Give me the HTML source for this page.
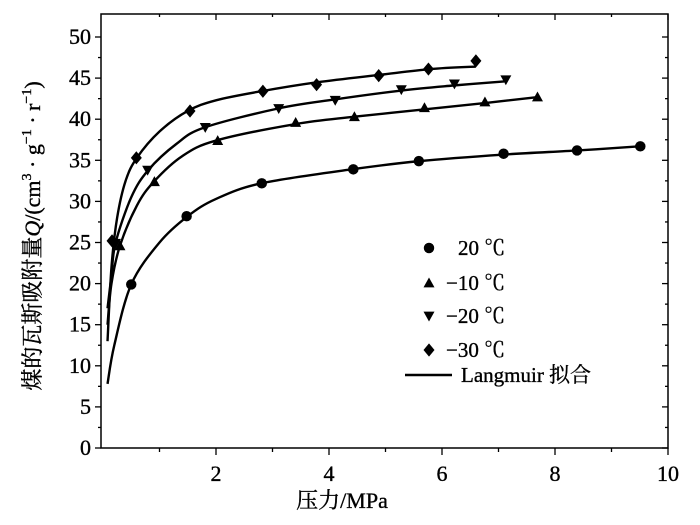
<!DOCTYPE html>
<html><head><meta charset="utf-8"><style>
body{margin:0;background:#fff}
svg{display:block;font-family:"Liberation Serif","Noto Serif CJK SC",serif}
svg text{stroke:#000;stroke-width:0.35}
</style></head><body>
<svg id="c" width="700" height="525" viewBox="0 0 700 525"></svg>
<script>
const xTicks=[2,4,6,8,10];
const yTicks=[0,5,10,15,20,25,30,35,40,45,50];
const seriesNames=["20 ℃","−10 ℃","−20 ℃","−30 ℃"];
const seriesMarkers=["circle","up","down","diamond"];
const p20=[0.50,1.48,2.81,4.43,5.59,7.09,8.39,9.51];
const q20=[19.9,28.2,32.2,33.9,34.9,35.8,36.2,36.7];
const pm10=[0.30,0.91,2.03,3.41,4.45,5.69,6.76,7.69];
const qm10=[24.6,32.4,37.4,39.6,40.3,41.4,42.1,42.7];
const pm20=[0.22,0.79,1.81,3.11,4.11,5.28,6.22,7.13];
const qm20=[24.9,33.8,39.0,41.3,42.3,43.6,44.3,44.8];
const pm30=[0.16,0.59,1.54,2.83,3.78,4.88,5.76,6.60];
const qm30=[25.2,35.3,41.0,43.4,44.2,45.3,46.1,47.1];
const fp20=[0.08,0.2,0.5,1.0,1.5,2.0,2.8,4.4,5.6,7.1,8.4,9.5];
const fq20=[7.8,12.5,19.9,25,28.2,30.3,32.2,33.9,34.9,35.7,36.2,36.7];
const fpm10=[0.08,0.15,0.3,0.6,0.9,1.4,2.0,3.4,4.45,5.7,6.8,7.7];
const fqm10=[15,20,24.6,29.5,32.4,35.5,37.4,39.4,40.3,41.2,42.0,42.7];
const fpm20=[0.08,0.15,0.22,0.5,0.8,1.3,1.8,3.1,4.1,5.3,6.2,7.1];
const fqm20=[17,21,24.9,30.5,33.8,37,39.0,41.3,42.4,43.5,44.1,44.6];
const fpm30=[0.08,0.15,0.25,0.4,0.6,1.0,1.5,2.0,2.8,3.8,4.9,5.8,6.6];
const fqm30=[13,22,28,32.5,35.3,38.5,41.0,42.3,43.4,44.5,45.4,46.1,46.4];

const svg=document.getElementById('c');
const NS='http://www.w3.org/2000/svg';
const X0=103,XS=56.5,Y0=448,YS=8.22;
const sx=v=>X0+v*XS, sy=v=>Y0-v*YS;
function mk(t,a){const e=document.createElementNS(NS,t);for(const k in a)e.setAttribute(k,a[k]);svg.appendChild(e);return e;}

let e=mk('rect',{x:101,y:14,width:567,height:434,fill:'none',stroke:'#000','stroke-width':1.5});


for(let v=1;v<=10;v++){const big=v%2===0;
 e=mk('line',{x1:sx(v),x2:sx(v),y1:448,y2:big?455:452,stroke:'#000','stroke-width':1.3});
 
 
 e=mk('line',{x1:sx(v),x2:sx(v),y1:14,y2:big?20:17,stroke:'#000','stroke-width':1.3});
 
 }
xTicks.forEach(v=>{e=mk('text',{x:sx(v),y:481,'font-size':22,'text-anchor':'middle'});e.textContent=v;
 
 });
for(let v=0;v<=52;v+=2.5){const big=v%5===0;
 e=mk('line',{x1:big?95:98,x2:101,y1:sy(v),y2:sy(v),stroke:'#000','stroke-width':1.3});
 
 
 e=mk('line',{x1:668,x2:big?662:665,y1:sy(v),y2:sy(v),stroke:'#000','stroke-width':1.3});
 
 }
yTicks.forEach(v=>{e=mk('text',{x:91,y:sy(v)+7,'font-size':22,'text-anchor':'end'});e.textContent=v;
 
 });
e=mk('text',{x:342,y:508,'font-size':22,'text-anchor':'middle'});e.textContent='压力/MPa';


e=mk('text',{x:0,y:0,'font-size':22,'text-anchor':'middle',transform:'translate(40,236) rotate(-90)'});
e.innerHTML='煤的瓦斯吸附量<tspan font-style="italic">Q</tspan>/(cm<tspan font-size="14" dy="-9">3</tspan><tspan dy="9"> · g</tspan><tspan font-size="14" dy="-9">−1</tspan><tspan dy="9"> · r</tspan><tspan font-size="14" dy="-9">−1</tspan><tspan dy="9">)</tspan>';



function curve(ps,qs){const pts=ps.map((p,i)=>[sx(p),sy(qs[i])]);let d='M'+pts[0][0]+','+pts[0][1];
 for(let i=0;i<pts.length-1;i++){const p0=pts[Math.max(0,i-1)],p1=pts[i],p2=pts[i+1],p3=pts[Math.min(pts.length-1,i+2)];
  d+=` C${p1[0]+(p2[0]-p0[0])/6},${p1[1]+(p2[1]-p0[1])/6} ${p2[0]-(p3[0]-p1[0])/6},${p2[1]-(p3[1]-p1[1])/6} ${p2[0]},${p2[1]}`;}
 return d;}
function marker(type,x,y,s){
 if(type==='circle')return mk('circle',{cx:x,cy:y,r:s*0.95,fill:'#000'});
 if(type==='up')return mk('polygon',{points:`${x},${y-s} ${x-s},${y+s*0.8} ${x+s},${y+s*0.8}`,fill:'#000'});
 if(type==='down')return mk('polygon',{points:`${x},${y+s} ${x-s},${y-s*0.8} ${x+s},${y-s*0.8}`,fill:'#000'});
 return mk('polygon',{points:`${x},${y-s*1.2} ${x+s},${y} ${x},${y+s*1.2} ${x-s},${y}`,fill:'#000'});}
const fits=[[fp20,fq20],[fpm10,fqm10],[fpm20,fqm20],[fpm30,fqm30]];
const data=[[p20,q20],[pm10,qm10],[pm20,qm20],[pm30,qm30]];
fits.forEach((f,i)=>{e=mk('path',{d:curve(f[0],f[1]),fill:'none',stroke:'#000','stroke-width':2.4});
 
 });
data.forEach((d,i)=>{d[0].forEach((p,j)=>{e=marker(seriesMarkers[i],sx(p),sy(d[1][j]),5.5);
 
 });});
const ly=[248,283,316,350];
seriesNames.forEach((n,i)=>{e=marker(seriesMarkers[i],429,ly[i],5.5);
 
 
 e=mk('text',{x:i===0?458:446,y:ly[i]+7,'font-size':21});e.textContent=n;
 
 });
e=mk('line',{x1:405,x2:452,y1:375,y2:375,stroke:'#000','stroke-width':2.4});


e=mk('text',{x:461,y:382,'font-size':21});e.textContent='Langmuir 拟合';


</script>
</body></html>
